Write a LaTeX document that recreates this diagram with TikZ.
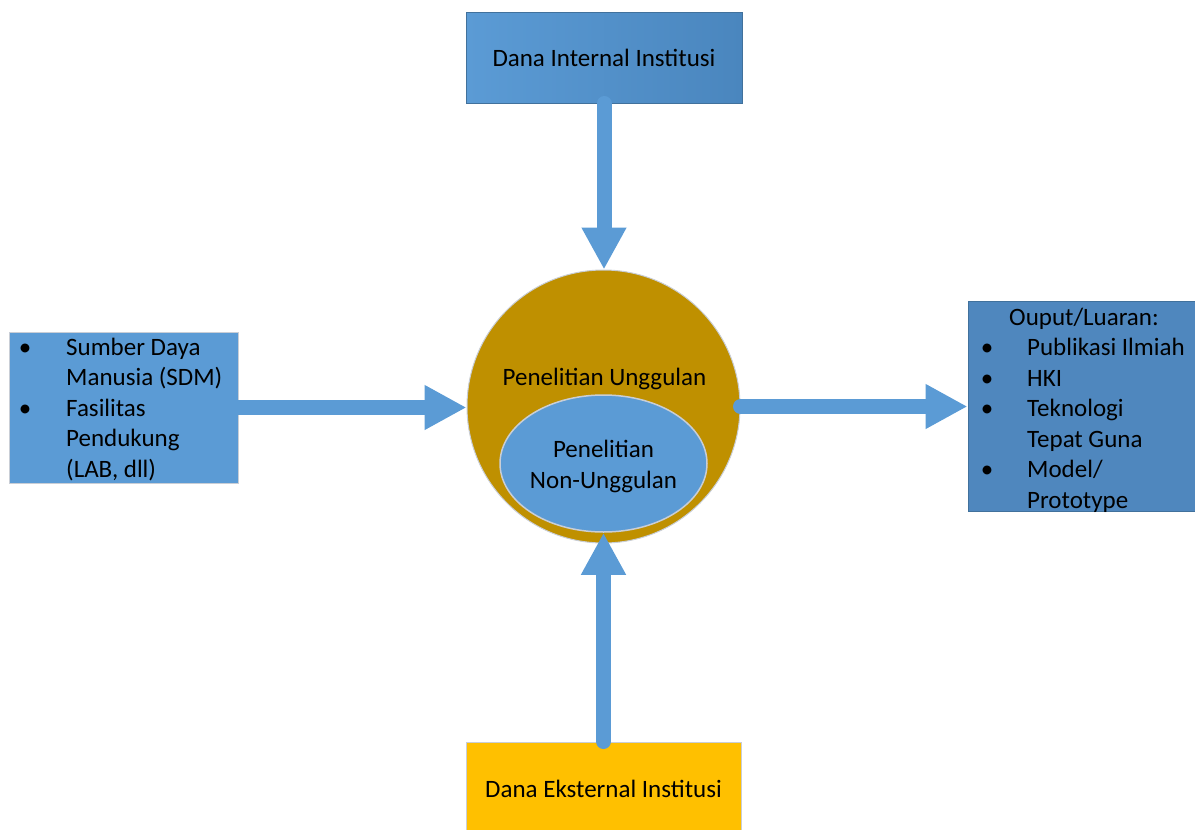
\documentclass[tikz,border=0pt]{standalone}
\usepackage{fontspec}
\setmainfont{Carlito}
\usetikzlibrary{arrows.meta,shapes.geometric}

\definecolor{accblue}{HTML}{5B9BD5}
\definecolor{lightblue}{HTML}{5B9BD5}
\definecolor{midblue}{HTML}{4A86BE}
\definecolor{outblue}{HTML}{4F87BE}
\definecolor{edgeblue}{HTML}{41719C}
\definecolor{gold}{HTML}{BF9000}
\definecolor{amber}{HTML}{FFC000}
\definecolor{softgrey}{HTML}{C9CED6}

\newcommand\listdot{\makebox[0pt]{\textbullet}}

\tikzset{
  box/.style={rectangle, draw, line width=1pt, inner sep=0pt,
    font=\fontsize{25}{30.5}\selectfont, text height=17pt, text depth=0pt},
  label/.style={inner sep=0pt, font=\fontsize{25}{30.5}\selectfont},
  flow/.style={draw=accblue, line width=15pt, line cap=round,
    -{Triangle[width=42pt,length=42pt]}},
}

\begin{document}
\begin{tikzpicture}[x=1pt,y=-1pt]
\useasboundingbox (0,0) rectangle (1195,830);
\clip (0,0) rectangle (1195,830);

% funding boxes
\node[box, draw=edgeblue, shading=axis, shading angle=120,
      left color=lightblue, right color=midblue,
      minimum width=276pt, minimum height=91pt] (top) at (604,57.5)
      {Dana Internal Institusi};
\node[box, draw=softgrey, fill=amber,
      minimum width=275pt, minimum height=93pt] (bot) at (603.5,788.5)
      {Dana Eksternal Institusi};

% resources box
\node[box, draw=softgrey, fill=accblue,
      minimum width=229pt, minimum height=151pt] (lbox) at (123.5,407.5) {};
\node[label, anchor=base west] (ltext) at (25,355) {%
  \begin{tabular}[t]{@{}p{41pt}@{}l@{}}
  \listdot & Sumber Daya\\
           & Manusia (SDM)\\
  \listdot & Fasilitas\\
           & Pendukung\\
           & (LAB, dll)
  \end{tabular}};

% output box
\node[box, draw=edgeblue, fill=outblue,
      minimum width=240pt, minimum height=210pt] (rbox) at (1088,406.5) {};
\node[label, anchor=base west] (rtext) at (987,325) {%
  \begin{tabular}[t]{@{}p{40pt}@{}l@{}}
  \multicolumn{2}{@{}l@{}}{\hspace{22pt}Ouput/Luaran:}\\
  \listdot & Publikasi Ilmiah\\
  \listdot & HKI\\
  \listdot & Teknologi\\
           & Tepat Guna\\
  \listdot & Model/\\
           & Prototype
  \end{tabular}};

% research circle with inner ellipse
\node[circle, draw=softgrey, line width=1pt, fill=gold, inner sep=0pt,
      minimum size=273pt] (circ) at (603.5,406.5) {};
\node[label, anchor=base] (ctext) at (604.5,385) {Penelitian Unggulan};
\node[ellipse, draw=softgrey, line width=1.5pt, fill=accblue, inner sep=0pt,
      minimum width=207pt, minimum height=137pt] (inner) at (603.5,463.5) {};
\node[label, anchor=base, align=center] (itext) at (603.5,488)
  {Penelitian\\Non-Unggulan};

% flows
\draw[flow] (top.south) -- (top.south |- circ.north);
\draw[flow] (lbox.east) -- (lbox.east -| circ.west);
\draw[flow] (circ.east) -- (circ.east -| rbox.west);
\draw[flow] (bot.north) -- (bot.north |- inner.south);
\end{tikzpicture}
\end{document}
